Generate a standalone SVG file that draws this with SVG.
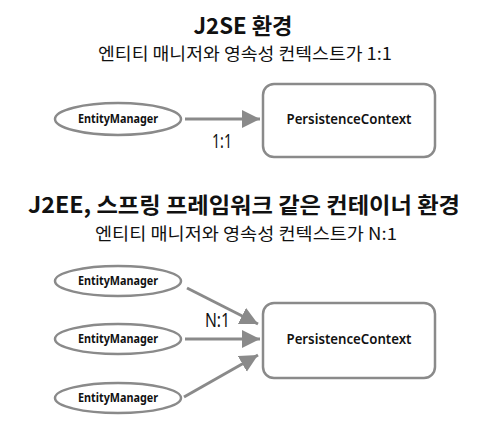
<svg xmlns="http://www.w3.org/2000/svg" width="491" height="431" viewBox="0 0 491 431">
  <style>
    .title { font-family: "Noto Sans CJK KR", "Noto Sans", sans-serif; font-weight: bold; font-size: 22px; fill: #111; }
    .sub { font-family: "Noto Sans CJK KR", "Noto Sans", sans-serif; font-size: 17px; fill: #111; }
    .em { font-family: "Noto Sans", "Open Sans", sans-serif; font-weight: bold; font-size: 11.5px; fill: #111; }
    .pc { font-family: "Noto Sans", "Open Sans", sans-serif; font-weight: 600; font-size: 14px; fill: #111; }
    .lbl { font-family: "Noto Sans", "Liberation Sans", sans-serif; font-size: 20px; fill: #111; }
    .ell { fill: #fff; stroke: #8a8a8a; stroke-width: 2.5; }
    .box { fill: #fff; stroke: #8a8a8a; stroke-width: 2.5; }
    .conn { stroke: #8a8a8a; stroke-width: 3; fill: none; marker-end: url(#ah); }
  </style>
  <defs>
    <marker id="ah" markerUnits="userSpaceOnUse" markerWidth="20" markerHeight="20" refX="18" refY="9" orient="auto">
      <path d="M0,0 L18,9 L0,18 Z" fill="#8a8a8a"/>
    </marker>
  </defs>
  <rect width="491" height="431" fill="#fff"/>

  <text class="title" x="243" y="34" text-anchor="middle" textLength="99" lengthAdjust="spacingAndGlyphs">J2SE 환경</text>
  <text class="sub" x="245" y="60" text-anchor="middle" textLength="294" lengthAdjust="spacingAndGlyphs">엔티티 매니저와 영속성 컨텍스트가 1:1</text>

  <text class="title" x="244" y="213" text-anchor="middle" textLength="432" lengthAdjust="spacingAndGlyphs">J2EE, 스프링 프레임워크 같은 컨테이너 환경</text>
  <text class="sub" x="246" y="240" text-anchor="middle" textLength="302" lengthAdjust="spacingAndGlyphs">엔티티 매니저와 영속성 컨텍스트가 N:1</text>

  <g id="connectors">
    <line class="conn" x1="185" y1="119" x2="260" y2="119"/>
    <line class="conn" x1="187" y1="288" x2="258" y2="324"/>
    <line class="conn" x1="185" y1="339" x2="260" y2="339"/>
    <line class="conn" x1="184" y1="397" x2="258" y2="355"/>
    <text class="lbl" x="222" y="148" text-anchor="middle" textLength="20" lengthAdjust="spacingAndGlyphs">1:1</text>
    <text class="lbl" x="217.5" y="327" text-anchor="middle" textLength="25" lengthAdjust="spacingAndGlyphs">N:1</text>
  </g>

  <g id="em1">
    <ellipse class="ell" cx="118" cy="119" rx="63" ry="16"/>
    <text class="em" x="118" y="123" text-anchor="middle" textLength="80" lengthAdjust="spacingAndGlyphs">EntityManager</text>
  </g>
  <g id="pc1">
    <rect class="box" x="263" y="84" width="172" height="73" rx="11"/>
    <text class="pc" x="349" y="124" text-anchor="middle" textLength="125" lengthAdjust="spacingAndGlyphs">PersistenceContext</text>
  </g>

  <g id="em2">
    <ellipse class="ell" cx="118" cy="281" rx="63" ry="15"/>
    <text class="em" x="118" y="285" text-anchor="middle" textLength="80" lengthAdjust="spacingAndGlyphs">EntityManager</text>
  </g>
  <g id="em3">
    <ellipse class="ell" cx="118" cy="339" rx="63" ry="15"/>
    <text class="em" x="118" y="343" text-anchor="middle" textLength="80" lengthAdjust="spacingAndGlyphs">EntityManager</text>
  </g>
  <g id="em4">
    <ellipse class="ell" cx="118" cy="398" rx="63" ry="15"/>
    <text class="em" x="118" y="402" text-anchor="middle" textLength="80" lengthAdjust="spacingAndGlyphs">EntityManager</text>
  </g>
  <g id="pc2">
    <rect class="box" x="263" y="303" width="172" height="75" rx="11"/>
    <text class="pc" x="349" y="344" text-anchor="middle" textLength="125" lengthAdjust="spacingAndGlyphs">PersistenceContext</text>
  </g>
</svg>
